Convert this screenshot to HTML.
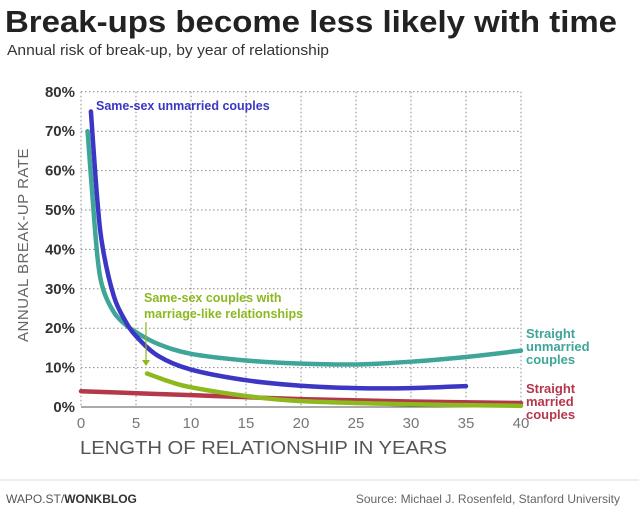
<!DOCTYPE html>
<html><head><meta charset="utf-8"><style>
body{margin:0;background:#fff;width:639px;height:524px;overflow:hidden;font-family:"Liberation Sans",sans-serif}
</style></head><body>
<svg id="s" width="639" height="524" xmlns="http://www.w3.org/2000/svg" font-family="Liberation Sans, sans-serif">
<text x="5" y="32" font-size="31" font-weight="bold" fill="#222" textLength="612" lengthAdjust="spacingAndGlyphs">Break-ups become less likely with time</text>
<text x="7" y="55" font-size="15" fill="#333" textLength="322" lengthAdjust="spacingAndGlyphs">Annual risk of break-up, by year of relationship</text>
<g id="grid" stroke="#888" stroke-width="1" stroke-dasharray="1.5,2.5"></g>
<line x1="81" y1="407" x2="521" y2="407" stroke="#555" stroke-width="1"/>
<g id="ylab" font-size="15" font-weight="bold" fill="#333" text-anchor="end"></g>
<g id="xlab" font-size="15" fill="#777" text-anchor="middle"></g>
<text transform="translate(28,245) rotate(-90)" font-size="15" fill="#666" text-anchor="middle" letter-spacing="0.5">ANNUAL BREAK-UP RATE</text>
<text x="80" y="454" font-size="18" fill="#555" textLength="367" lengthAdjust="spacingAndGlyphs">LENGTH OF RELATIONSHIP IN YEARS</text>
<g id="lines" fill="none" stroke-linecap="round" stroke-width="4.5"></g>
<text x="96" y="110" font-size="12.5" font-weight="bold" fill="#3b36c4">Same-sex unmarried couples</text>
<text x="144" y="302" font-size="12.5" font-weight="bold" fill="#8db81e">Same-sex couples with</text>
<text x="144" y="318" font-size="12.5" font-weight="bold" fill="#8db81e">marriage-like relationships</text>
<line x1="146" y1="322" x2="146" y2="362" stroke="#8db81e" stroke-width="1.2"/>
<path d="M142,360 L146,366 L150,360 Z" fill="#8db81e"/>
<g font-size="13" font-weight="bold" fill="#3ea598"><text x="526" y="338">Straight</text><text x="526" y="351">unmarried</text><text x="526" y="364">couples</text></g>
<g font-size="13" font-weight="bold" fill="#b5374a"><text x="526" y="393">Straight</text><text x="526" y="406">married</text><text x="526" y="419">couples</text></g>
<line x1="0" y1="480" x2="639" y2="480" stroke="#ddd"/>
<text x="6" y="503" font-size="12" fill="#555">WAPO.ST/<tspan font-weight="bold" fill="#333">WONKBLOG</tspan></text>
<text x="620" y="503" font-size="12" fill="#666" text-anchor="end">Source: Michael J. Rosenfeld, Stanford University</text>
</svg>
<script>
var NS="http://www.w3.org/2000/svg";
function X(v){return 81+v*11;} function Y(v){return 407-v*3.94;}
function el(t,a,p){var e=document.createElementNS(NS,t);for(var k in a)e.setAttribute(k,a[k]);document.getElementById(p).appendChild(e);return e;}
for(var i=1;i<=8;i++)el('line',{x1:81,x2:521,y1:Y(i*10),y2:Y(i*10)},'grid');
for(var i=1;i<=8;i++)el('line',{x1:X(i*5),x2:X(i*5),y1:Y(80),y2:407},'grid');
el('line',{x1:81,x2:81,y1:Y(80),y2:407},'grid');
for(var i=0;i<=8;i++){var t=el('text',{x:75,y:Y(i*10)+5},'ylab');t.textContent=(i*10)+'%';}
for(var i=0;i<=8;i++){var t=el('text',{x:X(i*5),y:428},'xlab');t.textContent=i*5;}
function path(pts){var p=pts.map(function(q){return [X(q[0]),Y(q[1])];});var d='M'+p[0][0]+','+p[0][1];
for(var i=0;i<p.length-1;i++){var p0=p[i-1]||p[i],p1=p[i],p2=p[i+1],p3=p[i+2]||p2;
d+=' C'+(p1[0]+(p2[0]-p0[0])/6)+','+(p1[1]+(p2[1]-p0[1])/6)+' '+(p2[0]-(p3[0]-p1[0])/6)+','+(p2[1]-(p3[1]-p1[1])/6)+' '+p2[0]+','+p2[1];}return d;}
el('path',{d:path([[0,4],[10,3],[20,2],[30,1.4],[40,1]]),stroke:'#b5374a'},'lines');
el('path',{d:path([[6,8.5],[8,6.5],[10,5],[15,2.8],[20,1.5],[30,0.7],[40,0.3]]),stroke:'#8db81e'},'lines');
el('path',{d:path([[0.6,70],[1,55],[1.5,38],[2,30],[3,24],[4,21],[5,19],[7,16],[10,13.5],[15,11.8],[20,11],[25,10.8],[30,11.5],[35,12.7],[40,14.3]]),stroke:'#3ea598'},'lines');
el('path',{d:path([[0.9,75],[1.5,52],[2,40],[3,28],[4,22],[5,18],[7,13],[10,9.5],[15,6.8],[20,5.4],[25,4.8],[30,4.8],[35,5.3]]),stroke:'#3b36c4'},'lines');
</script>
</body></html>
